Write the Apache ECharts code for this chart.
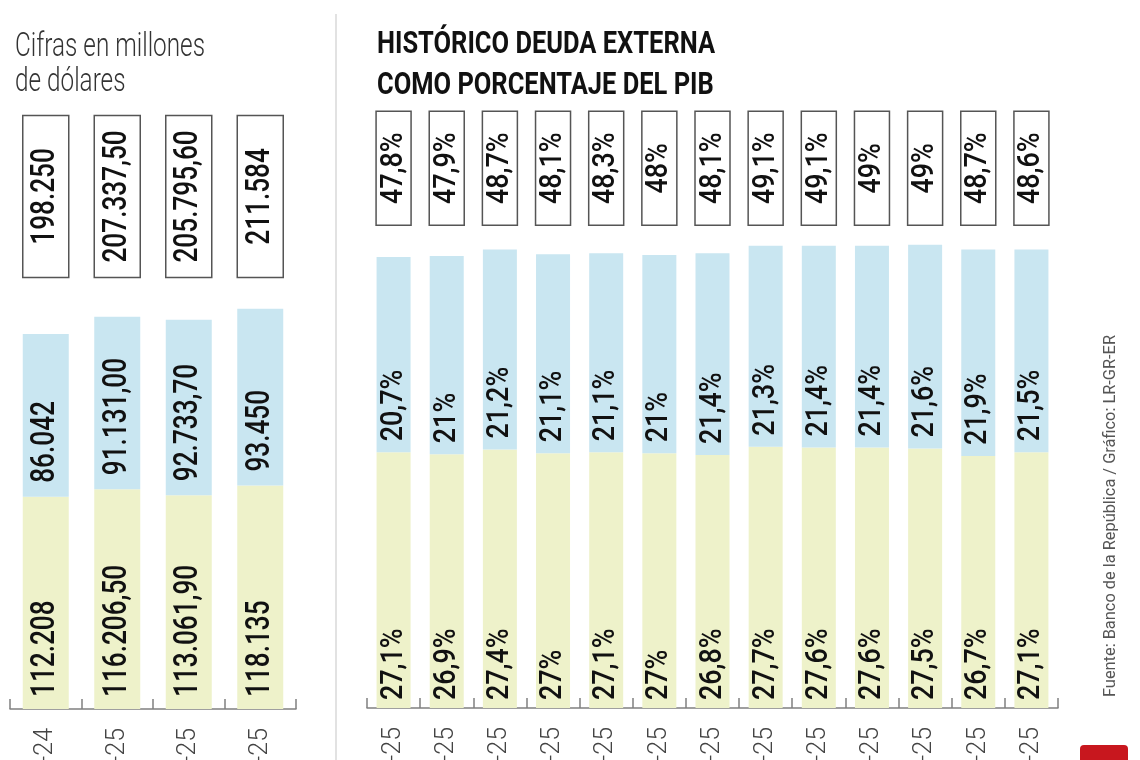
<!DOCTYPE html>
<html lang="es">
<head>
<meta charset="UTF-8">
<title>Deuda externa</title>
<style>
  html, body { margin: 0; padding: 0; background: #fff; }
  #main { width: 1140px; height: 760px; }
</style>
</head>
<body>
<div id="main"></div>
<script src="https://cdn.jsdelivr.net/npm/echarts@6/dist/echarts.min.js"></script>
<script type="text/javascript">
    // cifras en millones de dolares
    var leftCats = ['dic-24', 'ene-25', 'feb-25', 'mar-25'];
    var leftBottom = [112208, 116206.5, 113061.9, 118135];
    var leftTop = [86042, 91131.0, 92733.7, 93450];
    var leftBottomText = ['112.208', '116.206,50', '113.061,90', '118.135'];
    var leftTopText = ['86.042', '91.131,00', '92.733,70', '93.450'];
    var leftTotalText = ['198.250', '207.337,50', '205.795,60', '211.584'];

    // deuda externa como % del PIB
    var rightCats = ['01-25', '02-25', '03-25', '04-25', '05-25', '06-25', '07-25',
        '08-25', '09-25', '10-25', '11-25', '12-25', '13-25'];
    var rightBottom = [27.1, 26.9, 27.4, 27, 27.1, 27, 26.8, 27.7, 27.6, 27.6, 27.5, 26.7, 27.1];
    var rightTop = [20.7, 21, 21.2, 21.1, 21.1, 21, 21.4, 21.3, 21.4, 21.4, 21.6, 21.9, 21.5];
    var rightTotals = [47.8, 47.9, 48.7, 48.1, 48.3, 48, 48.1, 49.1, 49.1, 49, 49, 48.7, 48.6];

    var FONT = "Roboto, 'Noto Sans', sans-serif";
    var YELLOW = '#eef2ca';
    var BLUE = '#c9e6f1';
    var BOX_Y_LEFT = 271000;   // altura de las cajas de totales (eje izq.)
    var BOX_Y_RIGHT = 57.2;    // altura de las cajas de totales (eje der.)
    var SQUEEZE_L = 0.77;      // texto condensado
    var SQUEEZE_R = 0.84;

    function pct(v) {
        return String(v).replace('.', ',') + '%';
    }

    // escala horizontal para que un texto ocupe un ancho dado
    var measureCtx = document.createElement('canvas').getContext('2d');
    function fit(text, font, w) {
        measureCtx.font = font;
        return w / measureCtx.measureText(text).width;
    }

    // etiqueta vertical apoyada en la base de cada tramo
    function innerLabels(xi, yi, points, texts, size, squeeze, dist) {
        return {
            type: 'custom', xAxisIndex: xi, yAxisIndex: yi, silent: true, z: 5,
            data: points,
            renderItem: function (params, api) {
                var p = api.coord([api.value(0), api.value(1)]);
                return {
                    type: 'text', x: p[0], y: p[1] - dist, rotation: Math.PI / 2, scaleX: squeeze,
                    style: {
                        text: texts[params.dataIndex], font: '500 ' + size + 'px ' + FONT,
                        fill: '#111', align: 'left', verticalAlign: 'middle'
                    }
                };
            }
        };
    }

    // caja con el total, a altura fija
    function totalBoxes(xi, yi, points, texts, size, squeeze, w, h) {
        return {
            type: 'custom', xAxisIndex: xi, yAxisIndex: yi, silent: true, z: 5,
            data: points,
            renderItem: function (params, api) {
                var p = api.coord([api.value(0), api.value(1)]);
                return {
                    type: 'group',
                    children: [
                        {
                            type: 'rect',
                            shape: { x: p[0] - w / 2, y: p[1] - h / 2, width: w, height: h },
                            style: { fill: '#fff', stroke: '#555', lineWidth: 1.5 }
                        },
                        {
                            type: 'text', x: p[0], y: p[1], rotation: Math.PI / 2, scaleX: squeeze,
                            style: {
                                text: texts[params.dataIndex], font: '500 ' + size + 'px ' + FONT,
                                fill: '#111', align: 'center', verticalAlign: 'middle'
                            }
                        }
                    ]
                };
            }
        };
    }

    var axisCommon = {
        type: 'category',
        axisLine: { lineStyle: { color: '#808080', width: 1.5 } },
        axisTick: { show: true, inside: true, length: 10, lineStyle: { color: '#808080', width: 1.5 } },
        axisLabel: { rotate: 90, margin: 19, fontFamily: FONT, fontWeight: 300, fontSize: 25, color: '#444' }
    };

    var idx = function (arr, y) { return arr.map(function (v, i) { return [i, y === undefined ? v : y]; }); };

    var chart = echarts.init(document.getElementById('main'));
    var option = {
        animation: false,
        backgroundColor: '#fff',
        grid: [
            { left: 10, width: 286, top: 47, bottom: 51, outerBoundsMode: 'none', containLabel: false },
            { left: 367, width: 691, top: 47.5, bottom: 52, outerBoundsMode: 'none', containLabel: false }
        ],
        xAxis: [
            Object.assign({ gridIndex: 0, data: leftCats }, axisCommon),
            Object.assign({ gridIndex: 1, data: rightCats }, axisCommon)
        ],
        yAxis: [
            { gridIndex: 0, type: 'value', min: 0, max: 350000, show: false },
            { gridIndex: 1, type: 'value', min: 0, max: 70, show: false }
        ],
        series: [
            {
                type: 'bar', xAxisIndex: 0, yAxisIndex: 0, stack: 'l', barWidth: 46,
                data: leftBottom, itemStyle: { color: YELLOW }, silent: true
            },
            {
                type: 'bar', xAxisIndex: 0, yAxisIndex: 0, stack: 'l', barWidth: 46,
                data: leftTop, itemStyle: { color: BLUE }, silent: true
            },
            {
                type: 'bar', xAxisIndex: 1, yAxisIndex: 1, stack: 'r', barWidth: 34,
                data: rightBottom, itemStyle: { color: YELLOW }, silent: true
            },
            {
                type: 'bar', xAxisIndex: 1, yAxisIndex: 1, stack: 'r', barWidth: 34,
                data: rightTop, itemStyle: { color: BLUE }, silent: true
            },
            innerLabels(0, 0, idx(leftBottom, 0), leftBottomText, 34, SQUEEZE_L, 12),
            innerLabels(0, 0, idx(leftBottom), leftTopText, 34, SQUEEZE_L, 14),
            totalBoxes(0, 0, idx(leftTotalText, BOX_Y_LEFT), leftTotalText, 34, SQUEEZE_L, 46, 162),
            innerLabels(1, 1, idx(rightBottom, 0), rightBottom.map(pct), 32, SQUEEZE_R, 8),
            innerLabels(1, 1, idx(rightBottom), rightTop.map(pct), 32, SQUEEZE_R, 11),
            totalBoxes(1, 1, idx(rightTotals, BOX_Y_RIGHT), rightTotals.map(pct), 32, SQUEEZE_R, 35, 114)
        ],
        graphic: [
            {
                type: 'line', silent: true,
                shape: { x1: 336, y1: 14, x2: 336, y2: 760 },
                style: { stroke: '#e2e2e2', lineWidth: 2 }
            },
            {
                type: 'text', x: 15, y: 48, silent: true,
                scaleX: fit('Cifras en millones', '300 33px ' + FONT, 190),
                style: { text: 'Cifras en millones', font: '300 33px ' + FONT, fill: '#333', verticalAlign: 'middle' }
            },
            {
                type: 'text', x: 15, y: 83, silent: true,
                scaleX: fit('Cifras en millones', '300 33px ' + FONT, 190),
                style: { text: 'de dólares', font: '300 33px ' + FONT, fill: '#333', verticalAlign: 'middle' }
            },
            {
                type: 'text', x: 377, y: 45, silent: true,
                scaleX: fit('HISTÓRICO DEUDA EXTERNA', 'bold 32px ' + FONT, 338),
                style: { text: 'HISTÓRICO DEUDA EXTERNA', font: 'bold 32px ' + FONT, fill: '#111', verticalAlign: 'middle' }
            },
            {
                type: 'text', x: 377, y: 86, silent: true,
                scaleX: fit('HISTÓRICO DEUDA EXTERNA', 'bold 32px ' + FONT, 338),
                style: { text: 'COMO PORCENTAJE DEL PIB', font: 'bold 32px ' + FONT, fill: '#111', verticalAlign: 'middle' }
            },
            {
                type: 'text', x: 1111, y: 697, rotation: Math.PI / 2, silent: true,
                scaleX: fit('Fuente: Banco de la República / Gráfico: LR-GR-ER', '17px ' + FONT, 362),
                style: { text: 'Fuente: Banco de la República / Gráfico: LR-GR-ER', font: '17px ' + FONT,
                    fill: '#555', align: 'left', verticalAlign: 'middle' }
            },
            {
                type: 'rect', silent: true,
                shape: { x: 1080, y: 745, width: 48, height: 20, r: [4, 4, 0, 0] },
                style: { fill: '#c8171e' }
            }
        ]
    };
    chart.setOption(option);
</script>
</body>
</html>
